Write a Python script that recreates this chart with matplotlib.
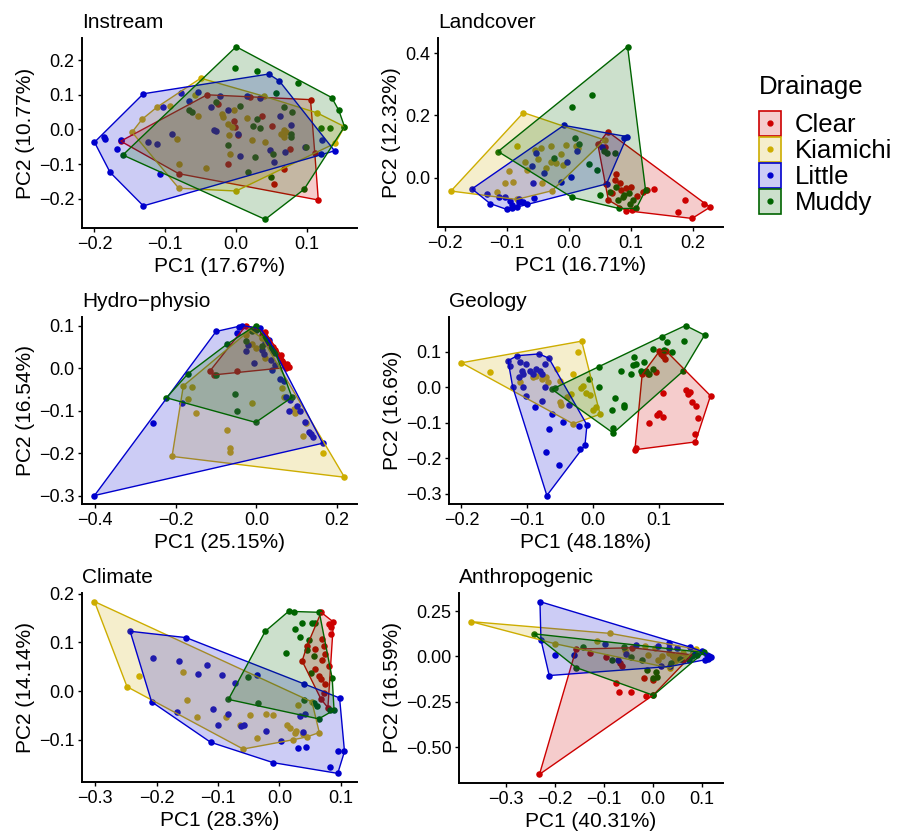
import numpy as np
import matplotlib.pyplot as plt
from matplotlib.patches import Rectangle
from matplotlib.lines import Line2D
from matplotlib.ticker import MultipleLocator
from matplotlib.colors import to_rgba

plt.rcParams['font.family'] = ['Liberation Sans', 'DejaVu Sans']

drainages = ["Clear", "Kiamichi", "Little", "Muddy"]
colors = ["#CD0000", "#CDAD00", "#0000CD", "#006400"]

titles = ["Instream", "Landcover", "Hydro\u2212physio", "Geology", "Climate", "Anthropogenic"]
x_labels = ["PC1 (17.67%)", "PC1 (16.71%)", "PC1 (25.15%)", "PC1 (48.18%)", "PC1 (28.3%)", "PC1 (40.31%)"]
y_labels = ["PC2 (10.77%)", "PC2 (12.32%)", "PC2 (16.54%)", "PC2 (16.6%)", "PC2 (14.14%)", "PC2 (16.59%)"]

# PCA scores (PC1, PC2)
instream_clear = [(-0.163, -0.034), (-0.041, 0.100), (0.105, 0.086), (0.116, -0.204), (-0.081, -0.128),
                  (-0.003, 0.024), (0.036, 0.039), (0.050, 0.010), (0.002, -0.016), (-0.012, -0.100),
                  (0.067, -0.115), (0.053, -0.158), (0.076, -0.056), (0.111, -0.067), (0.019, 0.093),
                  (-0.025, 0.074), (-0.001, 0.008)]
instream_kiamichi = [(-0.050, 0.148), (0.114, 0.048), (0.153, 0.008), (0.140, -0.040), (0.000, -0.178),
                     (-0.081, -0.170), (-0.147, -0.008), (-0.133, 0.029), (-0.112, 0.064), (-0.083, -0.028),
                     (-0.081, -0.100), (-0.042, -0.112), (-0.058, 0.098), (-0.018, 0.035), (-0.011, 0.016),
                     (0.015, 0.034), (-0.010, -0.017), (-0.009, -0.071), (0.039, 0.096), (0.041, -0.035),
                     (0.067, -0.003), (0.068, -0.023), (0.064, -0.013), (-0.003, 0.055), (-0.006, 0.006),
                     (-0.054, 0.040), (-0.094, 0.069), (0.022, -0.032), (-0.020, 0.045), (0.070, -0.008)]
instream_little = [(-0.200, -0.037), (-0.131, 0.103), (0.046, 0.160), (0.061, 0.140), (0.139, -0.062),
                   (-0.131, -0.221), (-0.178, -0.124), (-0.187, -0.023), (-0.185, -0.027), (-0.168, -0.058),
                   (-0.163, -0.032), (-0.103, 0.066), (-0.078, 0.105), (-0.066, 0.082), (-0.054, 0.108),
                   (-0.091, -0.012), (-0.112, -0.042), (-0.125, -0.036), (-0.107, -0.130), (-0.036, 0.066),
                   (-0.023, 0.097), (-0.011, 0.055), (-0.031, -0.002), (-0.029, -0.006), (0.002, -0.014),
                   (0.005, -0.076), (0.048, -0.060), (0.053, -0.093), (0.069, -0.064), (0.062, 0.040),
                   (0.077, 0.013), (0.097, -0.050), (0.121, -0.030), (0.120, -0.072), (0.015, 0.097),
                   (0.033, 0.090)]
instream_muddy = [(0.000, 0.239), (0.135, 0.092), (0.145, 0.055), (0.153, 0.008), (0.096, -0.173),
                  (0.041, -0.260), (-0.160, -0.074), (-0.001, 0.176), (0.029, 0.170), (0.088, 0.135),
                  (0.120, 0.005), (0.132, 0.005), (0.056, 0.106), (-0.029, 0.079), (-0.067, 0.055),
                  (-0.062, 0.050), (0.006, 0.068), (0.030, 0.029), (0.024, 0.010), (0.034, 0.005),
                  (0.067, 0.066), (0.078, -0.023), (0.098, -0.052), (0.079, 0.049), (-0.011, -0.045),
                  (0.026, -0.081), (0.052, -0.071), (0.017, -0.122), (0.049, -0.137), (0.078, -0.013)]

landcover_clear = [(0.063, 0.148), (0.219, -0.083), (0.228, -0.095), (0.199, -0.131), (0.093, -0.106),
                   (0.060, -0.021), (0.047, 0.107), (0.077, 0.012), (0.074, -0.008), (0.070, -0.048),
                   (0.082, -0.018), (0.093, -0.034), (0.120, -0.045), (0.126, -0.040), (0.138, -0.038),
                   (0.187, -0.072), (0.177, -0.109), (0.064, -0.072), (0.101, -0.029), (0.102, -0.104),
                   (0.085, -0.040), (0.110, -0.060), (0.058, 0.100)]
landcover_kiamichi = [(-0.073, 0.209), (0.058, 0.121), (-0.027, -0.042), (-0.084, -0.070), (-0.190, -0.043),
                      (-0.083, 0.103), (-0.096, 0.021), (-0.102, -0.016), (-0.115, -0.045), (-0.090, -0.013),
                      (-0.068, 0.025), (-0.055, 0.089), (-0.044, 0.094), (-0.029, 0.103), (-0.020, 0.046),
                      (-0.028, 0.051), (-0.036, 0.030), (-0.013, 0.075), (-0.009, 0.041), (0.012, 0.103),
                      (-0.043, -0.018), (-0.004, 0.105), (0.015, 0.094), (-0.050, 0.060), (-0.070, 0.050)]
landcover_little = [(-0.008, 0.168), (0.094, 0.132), (0.061, -0.020), (-0.056, -0.064), (-0.100, -0.102),
                    (-0.127, -0.083), (-0.156, -0.036), (-0.132, -0.054), (-0.112, -0.061), (-0.103, -0.061),
                    (-0.092, -0.088), (-0.080, -0.079), (-0.073, -0.079), (-0.068, -0.085), (-0.084, -0.093),
                    (-0.092, -0.099), (-0.060, 0.039), (-0.052, 0.078), (-0.057, -0.018), (-0.040, 0.014),
                    (-0.003, 0.049), (0.013, 0.087), (-0.013, -0.015), (0.003, 0.003), (0.054, 0.100),
                    (0.090, 0.127), (-0.080, -0.070), (-0.095, -0.075)]
landcover_muddy = [(0.095, 0.421), (0.124, -0.040), (0.109, -0.099), (0.081, -0.099), (0.005, -0.063),
                   (-0.114, 0.084), (0.038, 0.267), (0.005, 0.228), (0.010, 0.129), (-0.024, 0.064),
                   (0.033, 0.044), (0.046, 0.025), (0.057, 0.086), (0.061, 0.080), (0.074, 0.078),
                   (0.077, -0.029), (0.066, -0.045), (0.087, -0.061), (0.098, -0.050), (0.103, -0.072),
                   (0.099, -0.083), (0.050, -0.056), (0.090, -0.056), (0.079, -0.072), (0.016, 0.107)]

hydro_clear = [(-0.116, -0.008), (-0.026, 0.100), (0.022, 0.084), (0.080, 0.002), (0.072, 0.001),
               (-0.002, 0.093), (0.014, 0.078), (0.031, 0.059), (0.047, 0.043), (0.055, 0.028),
               (0.063, 0.016), (0.068, 0.010), (-0.104, -0.016), (-0.049, -0.007), (0.040, 0.050),
               (0.060, 0.030), (0.075, 0.010)]
hydro_kiamichi = [(-0.015, 0.090), (0.218, -0.257), (-0.209, -0.208), (-0.181, -0.042), (0.165, -0.200),
                  (-0.027, 0.078), (-0.159, -0.044), (-0.169, -0.073), (-0.149, -0.106), (-0.073, -0.146),
                  (-0.066, -0.189), (-0.065, -0.198), (-0.011, -0.083), (-0.011, 0.056), (-0.002, 0.047),
                  (0.014, 0.070), (0.022, 0.024), (0.063, -0.046), (0.068, -0.069), (0.092, -0.096),
                  (0.115, -0.161), (0.123, -0.129), (0.096, -0.107)]
hydro_little = [(-0.401, -0.300), (-0.100, 0.086), (-0.044, 0.097), (-0.035, 0.100), (0.164, -0.177),
                (-0.256, -0.130), (-0.185, -0.083), (-0.027, 0.039), (-0.021, 0.053), (-0.006, 0.011),
                (0.014, 0.043), (0.022, 0.059), (0.035, 0.020), (0.039, -0.005), (0.047, 0.008),
                (0.059, -0.026), (0.068, -0.030), (0.073, -0.069), (0.084, -0.076), (0.080, -0.100),
                (0.101, -0.090), (0.109, -0.101), (0.121, -0.127), (0.134, -0.155), (0.139, -0.163),
                (0.129, -0.150), (0.031, 0.066), (0.009, 0.093), (-0.048, 0.082), (0.018, 0.032)]
hydro_muddy = [(-0.002, 0.100), (0.088, -0.069), (-0.002, -0.128), (-0.049, -0.101), (-0.223, -0.070),
               (-0.169, -0.013), (-0.073, 0.056), (-0.101, -0.016), (-0.054, -0.061), (-0.027, 0.063),
               (-0.011, 0.086), (0.014, 0.051), (0.035, 0.047), (0.040, 0.039), (0.047, 0.036),
               (0.000, 0.090), (0.020, 0.070)]

geology_clear = [(0.065, -0.170), (0.156, -0.154), (0.179, -0.024), (0.111, 0.103), (0.101, 0.101),
                 (0.075, 0.036), (0.064, -0.176), (0.103, 0.094), (0.106, 0.089), (0.110, 0.080),
                 (0.084, 0.036), (0.096, 0.043), (0.107, -0.016), (0.086, -0.101), (0.098, -0.078),
                 (0.101, -0.073), (0.106, -0.084), (0.144, -0.018), (0.148, -0.013), (0.151, -0.041),
                 (0.157, -0.053), (0.160, -0.087), (0.156, -0.131), (0.141, -0.008)]
geology_kiamichi = [(-0.200, 0.069), (-0.017, 0.130), (0.011, -0.076), (-0.030, -0.103), (-0.156, 0.043),
                    (-0.023, 0.098), (-0.055, 0.052), (-0.050, 0.019), (-0.030, 0.036), (-0.015, 0.003),
                    (-0.010, -0.015), (-0.018, -0.001), (-0.005, -0.022), (0.000, -0.064), (0.005, -0.055),
                    (-0.091, 0.029), (-0.086, 0.033), (-0.078, 0.024), (-0.071, 0.029), (-0.068, 0.015),
                    (-0.111, 0.015), (-0.050, -0.041), (-0.048, -0.050), (-0.040, -0.027), (-0.033, -0.018)]
geology_little = [(-0.129, 0.075), (-0.115, 0.089), (-0.082, 0.094), (-0.067, 0.082), (-0.009, -0.106),
                  (-0.012, -0.163), (-0.019, -0.175), (-0.070, -0.305), (-0.122, 0.001), (-0.126, 0.061),
                  (-0.111, 0.070), (-0.108, 0.047), (-0.106, 0.038), (-0.113, 0.029), (-0.101, 0.066),
                  (-0.096, 0.047), (-0.091, 0.038), (-0.086, 0.052), (-0.081, 0.047), (-0.078, 0.038),
                  (-0.073, 0.066), (-0.073, 0.001), (-0.106, 0.001), (-0.088, -0.055), (-0.078, -0.038),
                  (-0.062, -0.075), (-0.045, -0.099), (-0.036, -0.050), (-0.021, -0.110), (-0.066, -0.118),
                  (-0.072, -0.182), (-0.052, -0.218), (-0.102, -0.025)]
geology_muddy = [(-0.062, -0.006), (0.009, 0.058), (0.141, 0.174), (0.170, 0.147), (0.137, 0.045),
                 (0.031, -0.129), (0.030, -0.115), (-0.058, -0.002), (-0.006, 0.022), (0.043, 0.047),
                 (0.061, 0.064), (0.063, 0.086), (0.065, 0.066), (0.058, 0.038), (0.078, 0.070),
                 (0.081, 0.047), (0.091, 0.107), (0.092, 0.052), (0.105, 0.143), (0.108, 0.105),
                 (0.113, 0.128), (0.121, 0.098), (0.139, 0.131), (0.034, -0.031), (0.048, -0.050),
                 (0.047, -0.055), (0.029, -0.065), (0.073, 0.047), (0.086, 0.038), (0.010, 0.000)]

climate_clear = [(0.068, 0.162), (0.088, 0.142), (0.079, -0.034), (0.037, 0.062), (0.045, 0.093),
                 (0.080, 0.138), (0.084, 0.131), (0.084, 0.117), (0.069, 0.107), (0.072, 0.093),
                 (0.058, 0.086), (0.069, 0.065), (0.075, 0.076), (0.080, 0.052), (0.067, 0.024),
                 (0.075, 0.014), (0.064, 0.031), (0.058, 0.045), (0.072, -0.003), (0.068, -0.017)]
climate_kiamichi = [(-0.301, 0.184), (0.053, -0.022), (0.065, -0.085), (-0.059, -0.119), (-0.248, 0.009),
                    (-0.228, 0.031), (-0.157, 0.040), (-0.150, -0.019), (-0.134, -0.053), (-0.087, -0.054),
                    (-0.064, -0.070), (-0.048, -0.050), (-0.037, -0.097), (-0.021, -0.048), (-0.010, -0.050),
                    (0.012, -0.070), (0.017, -0.076), (0.026, -0.086), (0.027, -0.081), (0.039, -0.089),
                    (0.045, -0.094), (0.030, -0.028), (0.022, -0.100)]
climate_little = [(-0.243, 0.123), (-0.152, 0.110), (0.098, -0.014), (0.106, -0.124), (0.095, -0.169),
                  (-0.010, -0.147), (-0.112, -0.105), (-0.208, -0.022), (-0.206, 0.069), (-0.164, 0.062),
                  (-0.133, 0.036), (-0.118, 0.054), (-0.093, 0.033), (-0.072, 0.017), (-0.037, 0.034),
                  (-0.166, -0.043), (-0.108, -0.036), (-0.100, -0.069), (-0.083, -0.048), (-0.063, -0.072),
                  (-0.057, -0.069), (-0.021, -0.081), (0.003, -0.102), (0.034, -0.052), (0.038, -0.083),
                  (0.030, -0.117), (0.044, -0.114), (0.040, 0.015), (0.095, -0.123), (0.083, -0.155),
                  (0.042, -0.046)]
climate_muddy = [(0.015, 0.164), (0.065, 0.162), (0.086, 0.026), (0.089, -0.039), (0.064, -0.057),
                 (-0.083, -0.017), (-0.023, 0.123), (0.023, 0.163), (-0.051, 0.029), (-0.034, -0.024),
                 (0.011, 0.078), (0.026, 0.127), (0.037, 0.140), (0.034, 0.112), (0.053, 0.140),
                 (0.058, 0.141), (0.057, 0.072), (0.051, 0.038), (0.056, -0.024), (0.061, -0.031),
                 (0.040, -0.019), (0.083, -0.038), (0.048, 0.105), (0.045, 0.085)]

anthro_clear = [(-0.232, -0.649), (-0.157, 0.041), (0.080, 0.009), (0.001, -0.212), (-0.128, 0.018),
                (-0.095, -0.004), (-0.064, -0.052), (-0.067, -0.037), (-0.042, 0.048), (-0.018, -0.120),
                (-0.015, -0.217), (-0.076, -0.147), (-0.069, -0.193), (-0.045, -0.193), (0.001, -0.129),
                (0.042, 0.000), (0.062, -0.018)]
anthro_kiamichi = [(-0.372, 0.192), (-0.087, 0.127), (0.088, 0.041), (0.035, -0.064), (-0.200, 0.070),
                   (-0.115, 0.085), (-0.010, 0.009), (0.004, 0.046), (0.011, -0.018), (0.018, 0.000),
                   (0.032, 0.018), (0.042, 0.000), (0.045, -0.018), (0.052, 0.009), (0.062, 0.018),
                   (0.069, -0.004), (-0.016, 0.055), (-0.058, 0.037)]
anthro_little = [(-0.231, 0.302), (0.119, -0.004), (-0.212, -0.105), (-0.229, 0.092), (0.107, -0.018),
                 (-0.200, 0.009), (-0.161, 0.006), (-0.097, 0.068), (-0.054, 0.013), (-0.034, 0.064),
                 (0.011, 0.055), (0.032, 0.074), (0.033, 0.046), (0.049, 0.046), (0.076, 0.052),
                 (0.083, 0.018), (0.100, 0.028), (0.110, 0.009), (0.114, -0.009), (0.016, -0.055),
                 (-0.071, -0.022), (0.035, -0.055), (0.115, 0.000), (0.113, -0.015)]
anthro_muddy = [(-0.244, 0.125), (0.104, 0.022), (0.001, -0.214), (-0.157, -0.061), (-0.142, 0.052),
                (-0.060, 0.052), (-0.084, -0.022), (-0.044, -0.004), (-0.013, -0.074), (0.006, -0.088),
                (0.008, -0.111), (0.001, -0.120), (0.056, -0.015), (0.073, -0.018), (0.080, 0.000),
                (0.090, 0.009), (0.038, -0.037), (-0.023, -0.018)]

panels = [
    [instream_clear, instream_kiamichi, instream_little, instream_muddy],
    [landcover_clear, landcover_kiamichi, landcover_little, landcover_muddy],
    [hydro_clear, hydro_kiamichi, hydro_little, hydro_muddy],
    [geology_clear, geology_kiamichi, geology_little, geology_muddy],
    [climate_clear, climate_kiamichi, climate_little, climate_muddy],
    [anthro_clear, anthro_kiamichi, anthro_little, anthro_muddy],
]
tick_steps = [(0.1, 0.1), (0.1, 0.2), (0.2, 0.1), (0.1, 0.1), (0.1, 0.1), (0.1, 0.25)]

W, H = 907, 831
# panel rectangles in figure fraction
positions = [
    [0.0904, 0.7256, 0.3032, 0.2286],
    [0.4829, 0.7268, 0.3142, 0.2274],
    [0.0904, 0.3935, 0.3032, 0.2250],
    [0.4950, 0.3935, 0.3021, 0.2250],
    [0.0904, 0.0590, 0.3032, 0.2274],
    [0.5061, 0.0578, 0.2911, 0.2286],
]


def convex_hull(pts):
    pts = sorted(set(pts))

    def cross(o, a, b):
        return (a[0] - o[0]) * (b[1] - o[1]) - (a[1] - o[1]) * (b[0] - o[0])

    lower, upper = [], []
    for p in pts:
        while len(lower) >= 2 and cross(lower[-2], lower[-1], p) <= 0:
            lower.pop()
        lower.append(p)
    for p in reversed(pts):
        while len(upper) >= 2 and cross(upper[-2], upper[-1], p) <= 0:
            upper.pop()
        upper.append(p)
    return np.array(lower[:-1] + upper[:-1])


fig = plt.figure(figsize=(W / 100, H / 100), dpi=100)

for i, groups in enumerate(panels):
    ax = fig.add_axes(positions[i])
    # points first, hulls drawn over them
    for pts, c in zip(groups, colors):
        arr = np.array(pts)
        ax.scatter(arr[:, 0], arr[:, 1], s=22, color=c, linewidths=0, zorder=2)
    for pts, c in zip(groups, colors):
        h = convex_hull(pts)
        ax.fill(h[:, 0], h[:, 1], facecolor=to_rgba(c, 0.2), edgecolor=c, lw=1.0, zorder=3)

    ax.xaxis.set_major_locator(MultipleLocator(tick_steps[i][0]))
    ax.yaxis.set_major_locator(MultipleLocator(tick_steps[i][1]))
    ax.spines[['top', 'right']].set_visible(False)
    for s in ['left', 'bottom']:
        ax.spines[s].set_linewidth(1.4)
    ax.tick_params(length=3, width=1.0, labelsize=13, pad=2.5, colors='black')
    ax.set_xlabel(x_labels[i], fontsize=15, labelpad=3)
    ax.set_ylabel(y_labels[i], fontsize=15, labelpad=3)
    ax.set_title(titles[i], loc='left', fontsize=15, pad=7)

# legend: filled key boxes with a dot, drawn in figure pixels
fig.text(759 / W, 1 - 94 / H, "Drainage", fontsize=18.5, va='baseline', ha='left')
for k, (name, c) in enumerate(zip(drainages, colors)):
    top = 111 + 26 * k
    fig.add_artist(Rectangle((759 / W, 1 - (top + 24.5) / H), 22 / W, 24.5 / H,
                             transform=fig.transFigure, facecolor=to_rgba(c, 0.2),
                             edgecolor=c, lw=1.2))
    fig.add_artist(Line2D([770 / W], [1 - (top + 12.25) / H], marker='o', ms=3.5,
                          color=c, ls='', transform=fig.transFigure))
    fig.text(795 / W, 1 - (top + 21) / H, name, fontsize=18.5, va='baseline', ha='left')

fig.savefig("out.png", dpi=100)
